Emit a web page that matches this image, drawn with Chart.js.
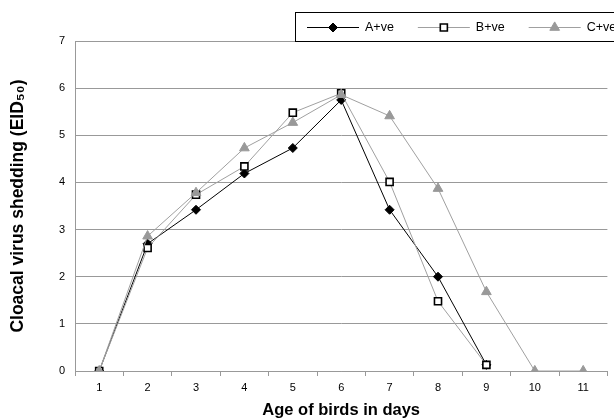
<!DOCTYPE html>
<html><head><meta charset="utf-8">
<script src="https://cdn.jsdelivr.net/npm/chart.js@4"></script>
<style>html,body{margin:0;padding:0;background:#fff;overflow:hidden}canvas{display:block}</style>
</head><body>
<canvas id="c" width="614" height="419"></canvas>
<script>
// ---- data ----
const days = ['1','2','3','4','5','6','7','8','9','10','11'];
const seriesNames = ['A+ve','B+ve','C+ve'];
const valuesA = [0, 2.70, 3.42, 4.19, 4.73, 5.75, 3.42, 2.00, 0.13];
const valuesB = [0, 2.61, 3.74, 4.34, 5.48, 5.89, 4.01, 1.48, 0.13];
const valuesC = [0, 2.86, 3.78, 4.73, 5.27, 5.86, 5.41, 3.87, 1.68, 0, 0];
const yMin = 0, yMax = 7, yStep = 1;
const xTitle = 'Age of birds in days';
const yTitle = 'Cloacal virus shedding (EID\u2085\u2080)';

const FONT = "'Liberation Sans', Arial, 'DejaVu Sans', sans-serif";
const GRID = '#999999';

// custom boxed legend drawn from the datasets
const legendBox = {
  id: 'legendBox',
  afterDraw(chart) {
    const ctx = chart.ctx;
    const ds = chart.data.datasets;
    ctx.save();
    ctx.fillStyle = '#fff';
    ctx.fillRect(295.5, 12.5, 340, 29);
    ctx.strokeStyle = '#000';
    ctx.lineWidth = 1;
    ctx.strokeRect(295.5, 12.5, 340, 29);
    ctx.font = '12.5px ' + FONT;
    ctx.textBaseline = 'middle';
    ctx.textAlign = 'left';
    let x = 307;
    const y = 27;
    ds.forEach(d => {
      ctx.strokeStyle = d.borderColor;
      ctx.lineWidth = d.borderWidth;
      ctx.beginPath();
      ctx.moveTo(x, y + 0.5);
      ctx.lineTo(x + 52, y + 0.5);
      ctx.stroke();
      ctx.fillStyle = d.pointBackgroundColor;
      ctx.strokeStyle = d.pointBorderColor;
      ctx.lineWidth = d.pointBorderWidth;
      Chart.helpers.drawPoint(ctx, {pointStyle: d.pointStyle, rotation: 0, radius: d.pointRadius, borderWidth: d.pointBorderWidth}, x + 26, y + 0.5);
      ctx.fillStyle = '#000';
      ctx.fillText(d.label, x + 58, y + 1);
      x = x + 58 + ctx.measureText(d.label).width + 24;
    });
    ctx.restore();
  }
};

new Chart(document.getElementById('c'), {
  type: 'line',
  data: {
    labels: days,
    datasets: [
      { label: seriesNames[0], data: valuesA, order: 3,
        borderColor: '#000', borderWidth: 1,
        pointStyle: 'rectRot', pointRadius: 4.5, pointBackgroundColor: '#000', pointBorderColor: '#000', pointBorderWidth: 1 },
      { label: seriesNames[1], data: valuesB, order: 2,
        borderColor: '#a0a0a0', borderWidth: 1,
        pointStyle: 'rect', pointRadius: 5, pointBackgroundColor: '#fff', pointBorderColor: '#000', pointBorderWidth: 1.6 },
      { label: seriesNames[2], data: valuesC, order: 1,
        borderColor: '#a0a0a0', borderWidth: 1,
        pointStyle: 'triangle', pointRadius: 5.6, pointBackgroundColor: '#999', pointBorderColor: '#999', pointBorderWidth: 1 }
    ]
  },
  options: {
    responsive: false,
    animation: false,
    events: [],
    layout: { padding: { top: 41, right: 1, left: 0, bottom: 0 } },
    plugins: { legend: { display: false }, tooltip: { enabled: false } },
    scales: {
      x: {
        type: 'category',
        offset: true,
        afterFit(s) { s.height = 48; },
        grid: { offset: true, drawOnChartArea: false, tickLength: 5, color: GRID },
        border: { color: GRID },
        ticks: { color: '#000', padding: 5, font: { family: FONT, size: 11 }, maxRotation: 0 },
        title: { display: true, text: xTitle, color: '#000', padding: { top: 0, bottom: 0 },
                 font: { family: FONT, size: 16.5, weight: 'bold', lineHeight: 1 } }
      },
      y: {
        min: yMin, max: yMax,
        afterFit(s) { s.width = 75; },
        grid: { color: GRID, drawTicks: false },
        border: { color: GRID },
        ticks: { stepSize: yStep, color: '#000', padding: 10, font: { family: FONT, size: 11 } },
        title: { display: true, text: yTitle, color: '#000', padding: { top: 8, bottom: 0 },
                 font: { family: FONT, size: 17.5, weight: 'bold', lineHeight: 1.2 } }
      }
    }
  },
  plugins: [legendBox]
});
</script>
</body></html>
